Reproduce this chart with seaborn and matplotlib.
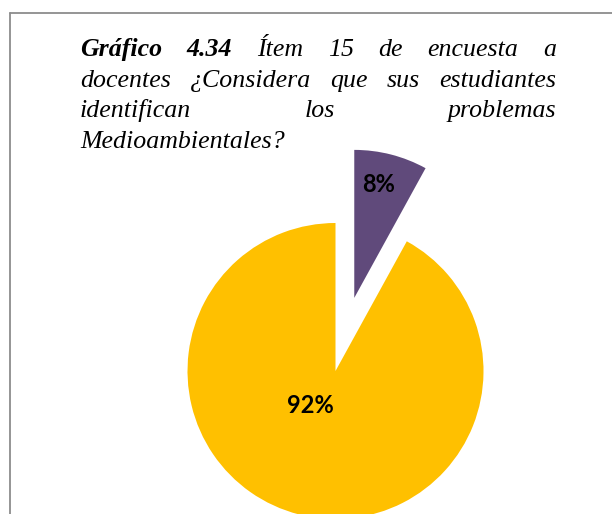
import matplotlib
matplotlib.use("Agg")
import matplotlib.pyplot as plt
from matplotlib.lines import Line2D
import seaborn as sns

# Survey answers (share of teachers)
categories = ["No", "Sí"]
values = [8, 92]
slice_colors = ["#604A7B", "#FFC000"]

title_lines = [
    [("Gráfico", "bold"), ("4.34", "bold"), ("Ítem", "normal"), ("15", "normal"),
     ("de", "normal"), ("encuesta", "normal"), ("a", "normal")],
    [("docentes", "normal"), ("¿Considera", "normal"), ("que", "normal"),
     ("sus", "normal"), ("estudiantes", "normal")],
    [("identifican", "normal"), ("los", "normal"), ("problemas", "normal")],
    [("Medioambientales?", "normal")],
]

sns.set_theme(style="white")
plt.rcParams["font.family"] = ["Liberation Serif", "DejaVu Serif"]
plt.rcParams["text.color"] = "black"

W, H = 612, 514
fig = plt.figure(figsize=(W / 100, H / 100), dpi=100)
fig.patch.set_facecolor("white")

# pie geometry in pixels
cx, cy, R = 335.5, 371.0, 148.0
ax = fig.add_axes([0, 0, 1, 1])
palette = sns.color_palette(slice_colors)
wedges, texts, autotexts = ax.pie(
    values,
    labels=None,
    colors=palette,
    startangle=90,
    counterclock=False,
    explode=[0.51, 0.0],
    autopct=lambda p: f"{p:.0f}%",
    textprops=dict(family=["Lato", "DejaVu Sans"], fontweight="bold",
                   fontsize=17, color="black"),
    wedgeprops=dict(linewidth=0),
)
ax.set_xlim(-cx / R, (W - cx) / R)
ax.set_ylim(-(H - cy) / R, cy / R)
ax.set_aspect("auto")
ax.axis("off")

# label placement inside the slices
autotexts[0].set_position(((379 - cx) / R, (cy - 185) / R))
autotexts[1].set_position(((310 - cx) / R, (cy - 405.5) / R))
for t in autotexts:
    t.set_ha("center")
    t.set_va("center")

# frame lines (top and left)
gray = "#8c8c8c"
fig.add_artist(Line2D([10 / W, 1], [1 - 12.5 / H] * 2, transform=fig.transFigure,
                      color=gray, lw=1.3))
fig.add_artist(Line2D([10 / W] * 2, [0, 1 - 12.5 / H], transform=fig.transFigure,
                      color=gray, lw=1.3))

# justified italic title
renderer = fig.canvas.get_renderer()
left, right = 80.0, 556.0
baselines = [56, 86.5, 117, 147.5]
fsize = 18.6
for li, (words, base) in enumerate(zip(title_lines, baselines)):
    items = []
    for w, weight in words:
        t = fig.text(0, 1 - base / H, w, family="Liberation Serif", fontsize=fsize,
                     fontstyle="italic", fontweight=weight, color="black",
                     ha="left", va="baseline", transform=fig.transFigure)
        width = t.get_window_extent(renderer).width
        items.append((t, width))
    total = sum(wd for _, wd in items)
    last = li == len(title_lines) - 1
    if last or len(items) == 1:
        gap = 5.0
    else:
        gap = (right - left - total) / (len(items) - 1)
    x = left
    for t, wd in items:
        t.set_x(x / W)
        x += wd + gap

fig.savefig("out.png", dpi=100, facecolor="white")
